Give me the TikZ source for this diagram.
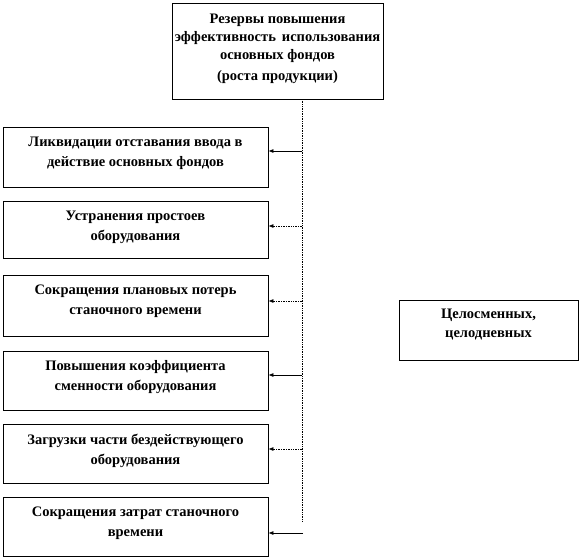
\documentclass[tikz,border=0pt]{standalone}
\usepackage{fontspec}
\setmainfont{Liberation Serif}
\usetikzlibrary{arrows.meta,calc,positioning}

\tikzset{
  box/.style={draw,line width=0.8pt,inner sep=0pt},
  txt/.style={anchor=north,inner sep=0pt,align=center,font=\fontsize{14.5}{20}\selectfont\bfseries},
  link/.style={-{Latex[length=5pt,width=4pt]},line width=0.7pt},
  dlink/.style={link,densely dotted},
}

\begin{document}
\begin{tikzpicture}[x=1pt,y=-1pt]
  \useasboundingbox (0,0) rectangle (582,560);
  % top box
  \node[box,minimum width=211pt,minimum height=96pt] (top) at (277.5,51) {};
  \node[txt,font=\fontsize{14.5}{18}\selectfont\bfseries] (toptxt) at ([yshift=-11pt]top.north)
    {Резервы повышения\\ эффективность\, использования\\ основных фондов\\[3pt] (роста продукции)};
  % left boxes
  \node[box,minimum width=265pt,minimum height=60pt] (l1) at (135.5,157) {};
  \node[box,minimum width=265pt,minimum height=57pt] (l2) at (135.5,229.5) {};
  \node[box,minimum width=265pt,minimum height=61pt] (l3) at (135.5,305.5) {};
  \node[box,minimum width=265pt,minimum height=59pt] (l4) at (135.5,380.5) {};
  \node[box,minimum width=265pt,minimum height=59pt] (l5) at (135.5,453.5) {};
  \node[box,minimum width=265pt,minimum height=59pt] (l6) at (135.5,526.5) {};
  \node[txt] (l1txt) at ([yshift=-10pt]l1.north) {Ликвидации отставания ввода в\\ действие основных фондов};
  \node[txt] (l2txt) at ([yshift=-10pt]l2.north) {Устранения простоев\\ оборудования};
  \node[txt] (l3txt) at ([yshift=-10pt]l3.north) {Сокращения плановых потерь\\ станочного времени};
  \node[txt] (l4txt) at ([yshift=-10pt]l4.north) {Повышения коэффициента\\ сменности оборудования};
  \node[txt] (l5txt) at ([yshift=-10pt]l5.north) {Загрузки части бездействующего\\ оборудования};
  \node[txt] (l6txt) at ([yshift=-10pt]l6.north) {Сокращения затрат станочного\\ времени};
  % right box
  \node[box,minimum width=179pt,minimum height=60pt] (r1) at (488.5,330) {};
  \node[txt,font=\fontsize{14.5}{19}\selectfont\bfseries] (r1txt) at ([yshift=-9pt]r1.north) {Целосменных,\\ целодневных};
  % trunk
  \coordinate (t0) at (302,99);
  \coordinate (tend) at (302,522);
  \draw[densely dotted,line width=0.7pt] (t0) -- (tend);
  \coordinate (t1) at (302,151);
  \coordinate (t2) at (302,226);
  \coordinate (t3) at (302,301);
  \coordinate (t4) at (302,375);
  \coordinate (t5) at (302,449);
  \coordinate (t6) at (303,533);
  \draw[link] (t1) -- (t1 -| l1.east);
  \draw[dlink] (t2) -- (t2 -| l2.east);
  \draw[dlink] (t3) -- (t3 -| l3.east);
  \draw[link] (t4) -- (t4 -| l4.east);
  \draw[dlink] (t5) -- (t5 -| l5.east);
  \draw[link] (t6) -- (t6 -| l6.east);
\end{tikzpicture}
\end{document}
